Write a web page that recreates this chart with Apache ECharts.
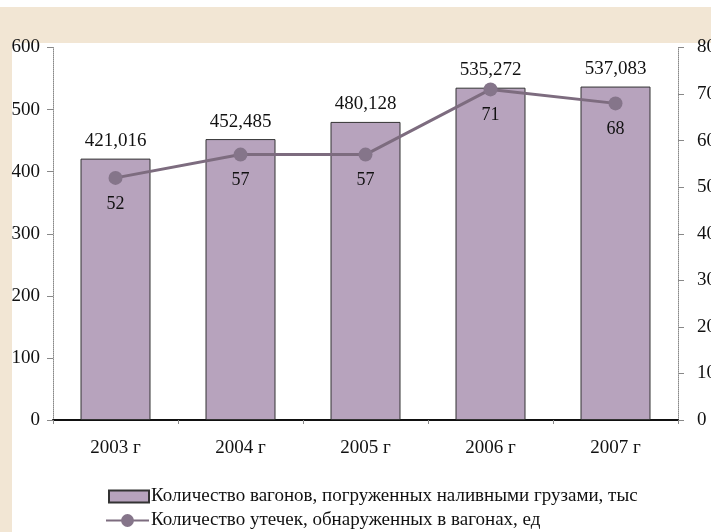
<!DOCTYPE html>
<html>
<head>
<meta charset="utf-8">
<script src="https://cdn.jsdelivr.net/npm/echarts@6/dist/echarts.min.js"></script>
<style>html,body{margin:0;padding:0;background:#fff}#c{width:711px;height:532px}</style>
</head>
<body>
<div id="c"></div>
<script>
const categories = ['2003 г', '2004 г', '2005 г', '2006 г', '2007 г'];
const wagons = [421.016, 452.485, 480.128, 535.272, 537.083];
const leaks = [52, 57, 57, 71, 68];
const leftTicks = [0, 100, 200, 300, 400, 500, 600];
const rightTicks = [0, 10, 20, 30, 40, 50, 60, 70, 80];
const seriesNames = ['Количество вагонов, погруженных наливными грузами, тыс', 'Количество утечек, обнаруженных в вагонах, ед'];

const serif = '"Liberation Serif", "DejaVu Serif", serif';
const legendText = {fontFamily: serif, fontSize: 19, color: '#111', padding: [0, 0, 0, -3]};
const chart = echarts.init(document.getElementById('c'));
chart.setOption({
  backgroundColor: '#ffffff',
  animation: false,
  graphic: [
    {type: 'rect', shape: {x: 0, y: 7, width: 711, height: 36}, style: {fill: '#f2e6d4'}, z: -10},
    {type: 'rect', shape: {x: 0, y: 7, width: 12, height: 525}, style: {fill: '#f2e6d4'}, z: -10}
  ],
  grid: {left: 53, right: 33, top: 47.5, bottom: 112, containLabel: false, outerBoundsMode: 'none'},
  legend: [
    {
      orient: 'horizontal', left: 103, top: 482,
      itemWidth: 40, itemHeight: 12, textStyle: legendText,
      data: [{name: seriesNames[0], icon: 'rect'}]
    },
    {
      orient: 'horizontal', left: 100, top: 506,
      itemWidth: 43, itemHeight: 16, textStyle: legendText,
      data: [{name: seriesNames[1]}]
    }
  ],
  xAxis: {
    type: 'category', data: categories,
    axisLine: {lineStyle: {color: '#111', width: 2}},
    axisTick: {show: true, length: 4, lineStyle: {color: '#888'}},
    axisLabel: {fontFamily: serif, fontSize: 19, color: '#111', margin: 19}
  },
  yAxis: [
    {
      type: 'value', min: 0, max: 600, interval: 100,
      axisLine: {show: true, lineStyle: {color: '#888', type: 'dotted'}},
      axisTick: {show: true, length: 6, lineStyle: {color: '#888'}},
      splitLine: {show: false},
      axisLabel: {fontFamily: serif, fontSize: 19, color: '#111', margin: 13,
        customValues: leftTicks}
    },
    {
      type: 'value', min: 0, max: 80, interval: 10, position: 'right',
      axisLine: {show: true, lineStyle: {color: '#888', type: 'dotted'}},
      axisTick: {show: true, length: 6, inside: false, lineStyle: {color: '#888'}},
      splitLine: {show: false},
      axisLabel: {fontFamily: serif, fontSize: 19, color: '#111', margin: 19,
        customValues: rightTicks}
    }
  ],
  series: [
    {
      name: seriesNames[0], type: 'bar', yAxisIndex: 0, data: wagons,
      barWidth: 70,
      itemStyle: {color: '#b7a3bd', borderColor: '#333', borderWidth: 1},
      label: {show: true, position: 'top', distance: 8, fontFamily: serif, fontSize: 19, color: '#111',
        formatter: p => p.value.toFixed(3).replace('.', ',')}
    },
    {
      name: seriesNames[1], type: 'line', yAxisIndex: 1, data: leaks,
      symbol: 'circle', symbolSize: 14,
      lineStyle: {color: '#7d6c7f', width: 3},
      itemStyle: {color: '#85758a'},
      label: {show: true, position: 'bottom', distance: 10, fontFamily: serif, fontSize: 18, color: '#111'}
    }
  ]
});
</script>
</body>
</html>
